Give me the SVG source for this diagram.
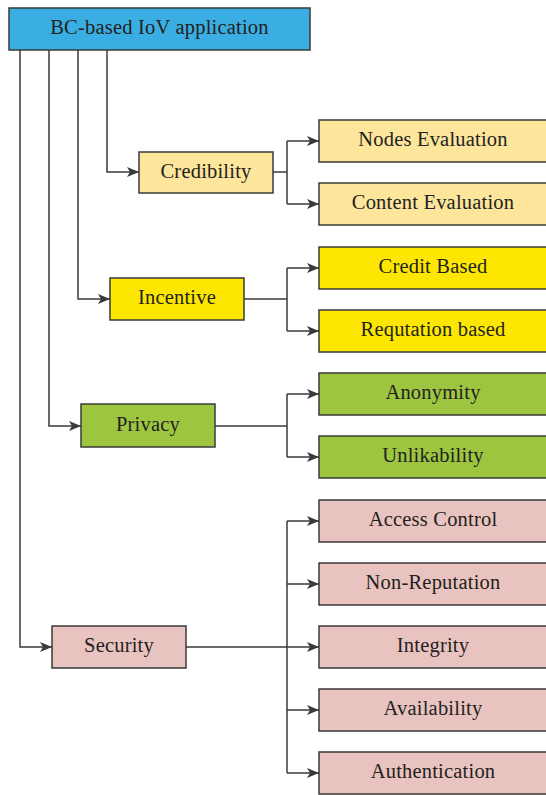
<svg xmlns="http://www.w3.org/2000/svg" width="546" height="795" viewBox="0 0 546 795">
<defs>
<style>
rect{stroke:#3a3a3a;stroke-width:1.5}
text{font-family:"Liberation Serif","Times New Roman",serif;font-size:20.5px;letter-spacing:0.2px;fill:#231f20;text-anchor:middle;dominant-baseline:central}
.c{fill:none;stroke:#3a3a3a;stroke-width:1.5}
.blue{fill:#3aaee2}.cred{fill:#fde59c}.inc{fill:#fde700}.priv{fill:#9dc540}.sec{fill:#e9c3bf}
</style>
<marker id="a" viewBox="0 0 12 10" refX="12" refY="5" markerWidth="12" markerHeight="10" markerUnits="userSpaceOnUse" orient="auto">
<path d="M0,0 L12,5 L0,10 L3,5 Z" fill="#3a3a3a"/>
</marker>
</defs>
<g id="connectors">
<path class="c" d="M107,50 V172 H139" marker-end="url(#a)"/>
<path class="c" d="M78,50 V299 H110" marker-end="url(#a)"/>
<path class="c" d="M49,50 V426 H81" marker-end="url(#a)"/>
<path class="c" d="M20,50 V647 H52" marker-end="url(#a)"/>
<path class="c" d="M273,172 H287"/>
<path class="c" d="M287,141 V204"/>
<path class="c" d="M287,141 H319" marker-end="url(#a)"/>
<path class="c" d="M287,204 H319" marker-end="url(#a)"/>
<path class="c" d="M244,299 H287"/>
<path class="c" d="M287,268 V331"/>
<path class="c" d="M287,268 H319" marker-end="url(#a)"/>
<path class="c" d="M287,331 H319" marker-end="url(#a)"/>
<path class="c" d="M215,426 H287"/>
<path class="c" d="M287,394 V457"/>
<path class="c" d="M287,394 H319" marker-end="url(#a)"/>
<path class="c" d="M287,457 H319" marker-end="url(#a)"/>
<path class="c" d="M186,647 H287"/>
<path class="c" d="M287,521 V773"/>
<path class="c" d="M287,521 H319" marker-end="url(#a)"/>
<path class="c" d="M287,584 H319" marker-end="url(#a)"/>
<path class="c" d="M287,647 H319" marker-end="url(#a)"/>
<path class="c" d="M287,710 H319" marker-end="url(#a)"/>
<path class="c" d="M287,773 H319" marker-end="url(#a)"/>
</g>
<g id="root"><rect class="blue" x="9" y="8" width="301" height="42"/><text x="159.5" y="27">BC-based IoV application</text></g>
<g id="credibility"><rect class="cred" x="139" y="152" width="134" height="41"/><text x="206" y="171">Credibility</text></g>
<g id="nodes-evaluation"><rect class="cred" x="319" y="120" width="230" height="42"/><text x="433" y="139">Nodes Evaluation</text></g>
<g id="content-evaluation"><rect class="cred" x="319" y="183" width="230" height="42"/><text x="433" y="202">Content Evaluation</text></g>
<g id="incentive"><rect class="inc" x="110" y="278" width="134" height="42"/><text x="177" y="297">Incentive</text></g>
<g id="credit-based"><rect class="inc" x="319" y="247" width="230" height="42"/><text x="433" y="266">Credit Based</text></g>
<g id="reputation-based"><rect class="inc" x="319" y="310" width="230" height="42"/><text x="433" y="329">Requtation based</text></g>
<g id="privacy"><rect class="priv" x="81" y="404" width="134" height="43"/><text x="148" y="424">Privacy</text></g>
<g id="anonymity"><rect class="priv" x="319" y="373" width="230" height="42"/><text x="433" y="392">Anonymity</text></g>
<g id="unlikability"><rect class="priv" x="319" y="436" width="230" height="42"/><text x="433" y="455">Unlikability</text></g>
<g id="security"><rect class="sec" x="52" y="626" width="134" height="42"/><text x="119" y="645">Security</text></g>
<g id="access-control"><rect class="sec" x="319" y="500" width="230" height="42"/><text x="433" y="519">Access Control</text></g>
<g id="non-reputation"><rect class="sec" x="319" y="563" width="230" height="42"/><text x="433" y="582">Non-Reputation</text></g>
<g id="integrity"><rect class="sec" x="319" y="626" width="230" height="42"/><text x="433" y="645">Integrity</text></g>
<g id="availability"><rect class="sec" x="319" y="689" width="230" height="42"/><text x="433" y="708">Availability</text></g>
<g id="authentication"><rect class="sec" x="319" y="752" width="230" height="42"/><text x="433" y="771">Authentication</text></g>
</svg>
